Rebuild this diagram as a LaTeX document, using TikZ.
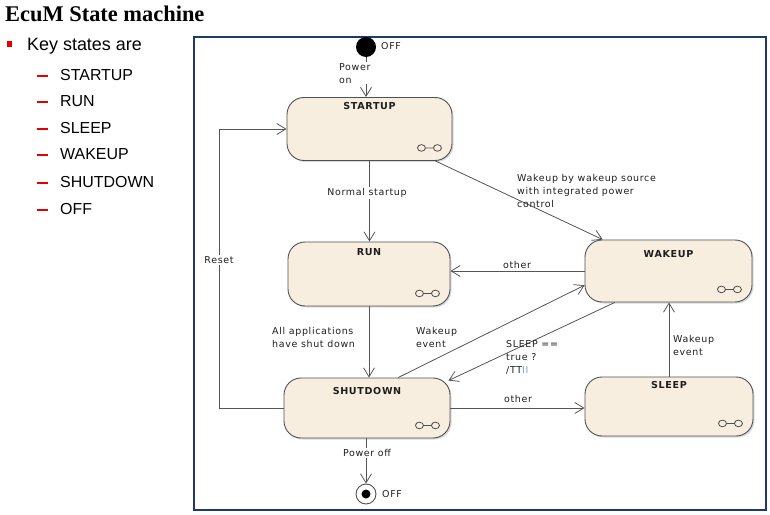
\documentclass[tikz,border=0pt]{standalone}
\usepackage{fontspec}
\setmainfont{Liberation Sans}
\newfontfamily\titlefont{Liberation Serif}
\newfontfamily\dfont[LetterSpace=7]{DejaVu Sans}
\usetikzlibrary{arrows.meta,calc,shadows}
\definecolor{boxfill}{RGB}{248,238,224}
\definecolor{boxline}{RGB}{80,80,80}
\definecolor{lnc}{RGB}{85,85,85}
\definecolor{navy}{RGB}{31,56,110}
\definecolor{bred}{RGB}{230,0,0}
\definecolor{txt}{RGB}{30,30,30}
\definecolor{pblue}{RGB}{120,160,200}
\newcommand\stateicon[1]{\draw[boxline, line width=0.8bp] ($(#1.south east)+(-31,-13)$) ellipse[x radius=4bp, y radius=3.3bp] ++(4,0) -- ++(8,0) ++(4,0) ellipse[x radius=4bp, y radius=3.3bp];}
\begin{document}
\begin{tikzpicture}[x=1bp,y=-1bp,
  state/.style={draw=boxline, line width=0.9bp, fill=boxfill, rounded corners=17bp, inner sep=0pt,
    drop shadow={shadow xshift=1.5bp, shadow yshift=-1.5bp, opacity=0.3}},
  stitle/.style={font=\dfont\bfseries\fontsize{9.6}{11}\selectfont, text=txt, inner sep=1bp},
  lab/.style={font=\dfont\fontsize{9.5}{13}\selectfont, text=txt, align=left, inner sep=1bp},
  wlab/.style={lab, fill=white},
  tr/.style={draw=lnc, line width=0.8bp, -{Straight Barb[length=9bp,width=11bp,line width=0.8bp]}},
  item/.style={anchor=west, font=\fontsize{16}{18}\selectfont, inner sep=0pt}
]
\useasboundingbox (0,0) rectangle (770,515);
% left text
\node[anchor=base west, font=\titlefont\bfseries\fontsize{22.5}{24}\selectfont, inner sep=0pt] (title) at (5,22) {EcuM State machine};
\fill[bred] (7,41) rectangle (12,47);
\node[anchor=west, font=\fontsize{18}{20}\selectfont, inner sep=0pt] (key) at (27,46) {Key states are};
\foreach \t/\y [count=\i] in {STARTUP/75, RUN/101, SLEEP/128, WAKEUP/154, SHUTDOWN/182, OFF/209}{
  \fill[bred] (37,\y) rectangle (48,\y+2);
  \node[item] (it\i) at (60,\y) {\t};
}
% frame
\draw[navy, line width=1.3bp] (194,37) rectangle (766,510);
% states
\node[circle, fill=black, minimum size=20bp, inner sep=0pt] (init) at (366,47) {};
\node[lab, anchor=west] (initl) at (380,46) {OFF};
\node[state, minimum width=165bp, minimum height=63bp] (startup) at (369.5,129) {};
\node[state, minimum width=162bp, minimum height=64bp] (run) at (369,274) {};
\node[state, minimum width=167bp, minimum height=62bp] (wakeup) at (668.5,271) {};
\node[state, minimum width=166bp, minimum height=60bp] (shutdown) at (367,408) {};
\node[state, minimum width=168bp, minimum height=59bp] (sleep) at (669,406.5) {};
\node[circle, draw=boxline, line width=0.9bp, fill=white, minimum size=20bp, inner sep=0pt] (final) at (366,494) {};
\node[circle, fill=black, minimum size=9bp, inner sep=0pt] (finaldot) at (final) {};
\node[lab, anchor=west] (finall) at (381,494) {OFF};
\foreach \s/\t/\y in {startup/STARTUP/106, run/RUN/252, wakeup/WAKEUP/254, shutdown/SHUTDOWN/391, sleep/SLEEP/385}{
  \node[stitle] (\s T) at (\s.north |- 0,\y) {\t};
  \stateicon{\s}
}
% connectors
\coordinate (rc) at (219,408);
\draw[tr] (init) -- (init |- startup.north);
\draw[tr] (startup.south) -- (startup.south |- run.north);
\draw[tr] ($(startup.south west)!0.897!(startup.south east)$) -- ($(wakeup.north west)!0.108!(wakeup.north east)$);
\draw[tr] (wakeup.west) -- (wakeup.west -| run.east);
\draw[tr] (run.south) -- (run.south |- shutdown.north);
\draw[tr] ($(shutdown.north west)!0.687!(shutdown.north east)$) -- ($(wakeup.north west)!0.726!(wakeup.south west)$);
\draw[tr] ($(wakeup.south west)!0.18!(wakeup.south east)$) -- ($(shutdown.north east)+(-2,3)$);
\draw[tr] (shutdown.east) -- (shutdown.east -| sleep.west);
\draw[tr] (sleep.north) -- (sleep.north |- wakeup.south);
\draw[tr] (shutdown.west) -- (rc) |- (startup.west);
\draw[tr] (shutdown.south -| final) -- (final);
% labels
\node[wlab, anchor=north west] (lpon) at (338,62) {Power\\on};
\node[wlab] (lnorm) at (367,193) {Normal startup};
\node[lab, anchor=north west] (lwk1) at (516,173) {Wakeup by wakeup source\\with integrated power\\control};
\node[lab] (loth1) at (517,265) {other};
\node[lab, anchor=north west] (lall) at (271,326) {All applications\\have shut down};
\node[lab, anchor=north west] (lwk2) at (415,326) {Wakeup\\event};
\node[lab, anchor=north west] (lslp) at (505,339) {SLEEP ==\\true ?\\/TT\textcolor{pblue}{II}};
\node[lab] (loth2) at (518,399) {other};
\node[lab, anchor=north west] (lwk3) at (672,334) {Wakeup\\event};
\node[wlab] (lreset) at (219,260) {Reset};
\node[wlab] (lpoff) at (367,453) {Power off};
\end{tikzpicture}
\end{document}
